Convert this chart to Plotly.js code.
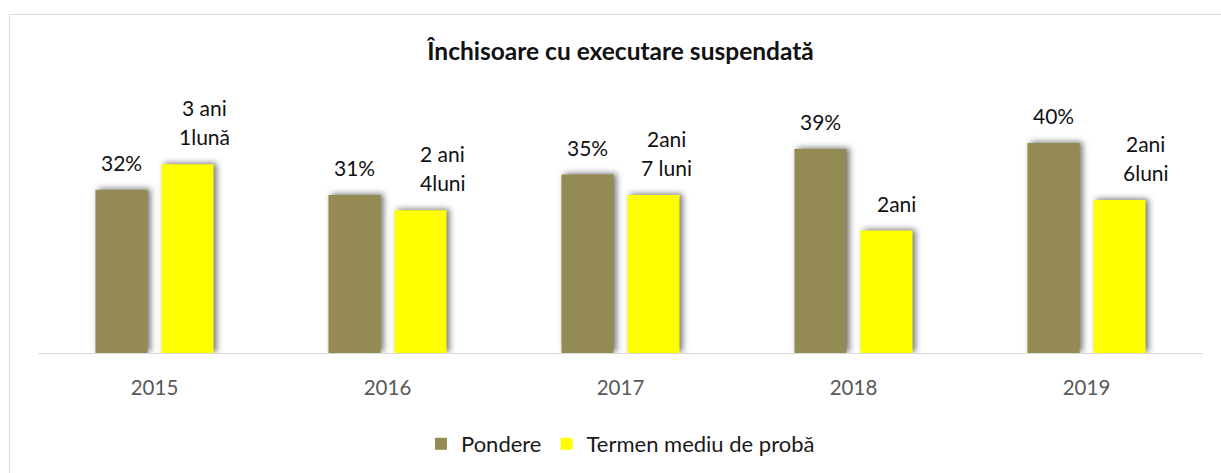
<!DOCTYPE html>
<html>
<head>
<meta charset="utf-8">
<script src="https://cdn.plot.ly/plotly-3.0.1.min.js"></script>
<style>
  html, body { margin: 0; padding: 0; background: #fff; }
  #chart { width: 1221px; height: 473px; }
  #chart .trace.bars .point path { filter: drop-shadow(3px -1px 3px rgba(0,0,0,0.55)); }
</style>
</head>
<body>
<div id="chart"></div>
<script>
// ---- data ----
const years = ['2015', '2016', '2017', '2018', '2019'];
const pondere = [32, 31, 35, 40, 41.2];          // bar heights
const pondereLabels = ['32%', '31%', '35%', '39%', '40%'];
const termen = [37, 28, 31, 24, 30];              // months
const termenLabels = ['3 ani<br>1lună', '2 ani<br>4luni', '2ani<br>7 luni', '2ani', '2ani<br>6luni'];
const termenLabelDx = [17, 22, 13, 10, 26];       // manual label offsets in original

const FONT = 'Lato, "Open Sans", sans-serif';
const olive = '#948A54';
const yellow = '#FFFF00';

const traces = [
  { type: 'bar', name: 'Pondere', x: years, y: pondere, marker: { color: olive }, hoverinfo: 'skip' },
  { type: 'bar', name: 'Termen mediu de probă', x: years, y: termen, marker: { color: yellow }, hoverinfo: 'skip' }
];

const annotations = [];
function addLabels(vals, labels, dxBase, dxArr) {
  vals.forEach((v, i) => {
    const lines = labels[i].split('<br>').reverse();
    lines.forEach((ln, j) => {
      annotations.push({
        x: i, y: v, xref: 'x', yref: 'y',   // category index
        text: ln, showarrow: false,
        xanchor: 'center', yanchor: 'bottom',
        xshift: dxBase + (dxArr ? dxArr[i] : 0),
        yshift: 13 + 29 * j,
        font: { family: FONT, size: 21, color: '#111111' }
      });
    });
  });
}
addLabels(pondere, pondereLabels, -33, null);
addLabels(termen, termenLabels, 33, termenLabelDx);

const layout = {
  width: 1221, height: 473,
  margin: { l: 38, r: 18, t: 98, b: 120 },
  paper_bgcolor: '#ffffff', plot_bgcolor: '#ffffff',
  font: { family: FONT, color: '#595959' },
  title: {
    text: '<b>Închisoare cu executare suspendată</b>',
    font: { family: FONT, size: 24.5, color: '#111111' },
    x: 0.5, xref: 'paper', xanchor: 'center',
    y: (473 - 51) / 473, yref: 'container', yanchor: 'middle'
  },
  barmode: 'group', bargap: 0.433, bargroupgap: 0.212,
  xaxis: {
    type: 'category', range: [-0.5, years.length - 0.5], autorange: false,
    showline: true, linecolor: '#d9d9d9', linewidth: 1,
    ticks: '', showgrid: false, zeroline: false,
    tickfont: { family: FONT, size: 20.5, color: '#595959' },
    ticklabelstandoff: 16, fixedrange: true
  },
  yaxis: { range: [0, 50], autorange: false, visible: false, showgrid: false, zeroline: false, fixedrange: true },
  showlegend: true,
  legend: {
    orientation: 'h', x: 0.5, xanchor: 'center',
    yref: 'container', y: (473 - 444) / 473, yanchor: 'middle',
    font: { family: FONT, size: 22, color: '#1a1a1a' }, itemclick: false, itemdoubleclick: false
  },
  annotations: annotations,
  shapes: [{
    type: 'rect', xref: 'paper', yref: 'paper', layer: 'below',
    x0: (9.5 - 38) / 1165, x1: (1230 - 38) / 1165,
    y0: (353 - 480) / 255, y1: (353 - 14.5) / 255,
    line: { color: '#d9d9d9', width: 1 }, fillcolor: 'rgba(0,0,0,0)'
  }]
};

Plotly.newPlot('chart', traces, layout, { displayModeBar: false, staticPlot: true });
</script>
</body>
</html>
